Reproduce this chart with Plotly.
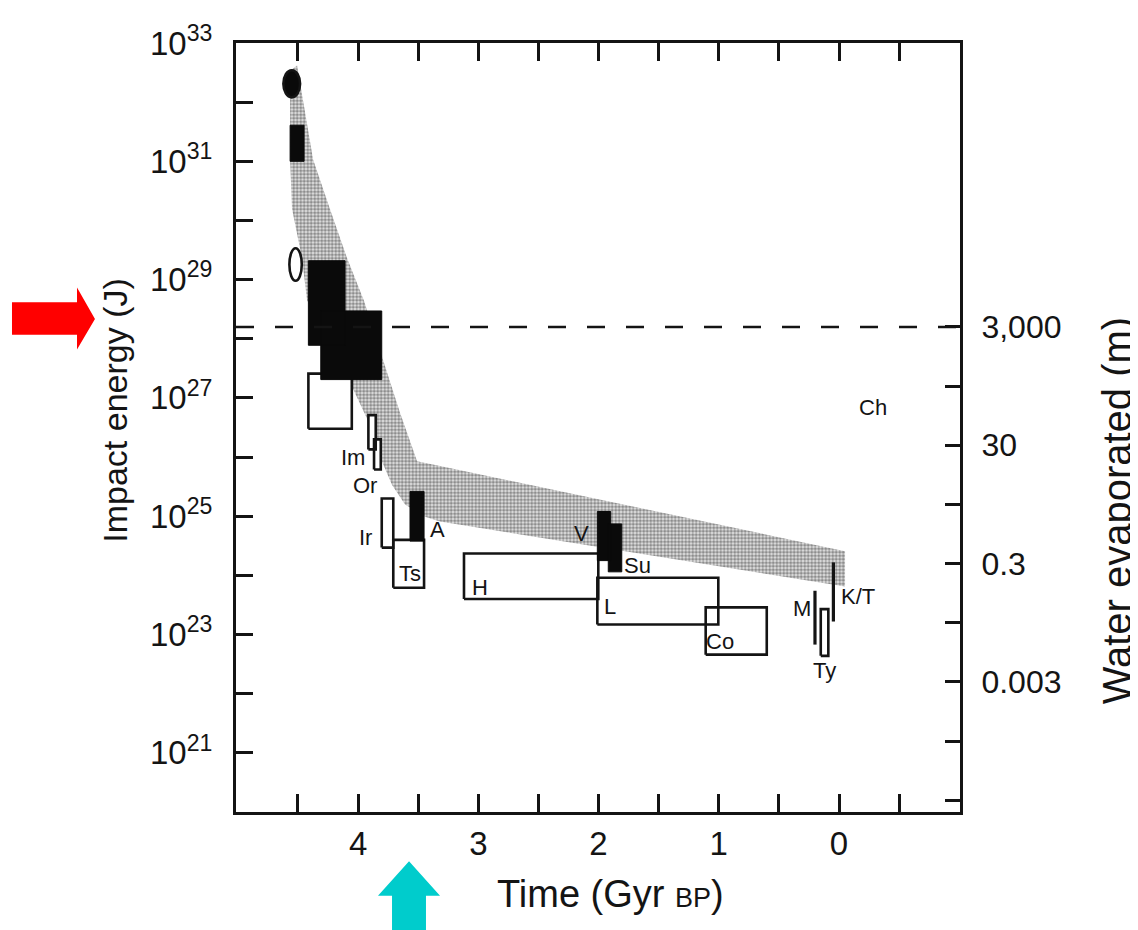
import plotly.graph_objects as go

# ---------------- data (time in Gyr BP, energy as log10 J) ----------------
open_names = ["early", "Im", "Or", "Ir", "Ts", "H", "L", "Co", "Ty"]
open_t0 = [4.413, 3.914, 3.867, 3.803, 3.707, 3.119, 2.010, 1.109, 0.152]
open_t1 = [4.052, 3.853, 3.811, 3.707, 3.451, 2.002, 1.004, 0.601, 0.089]
open_logE0 = [26.48, 26.13, 25.79, 24.47, 23.79, 23.60, 23.17, 22.66, 22.64]
open_logE1 = [27.41, 26.71, 26.30, 25.30, 24.60, 24.37, 23.96, 23.46, 23.43]

solid_names = ["b1", "b2", "b3", "A", "V", "Su"]
solid_t0 = [4.565, 4.413, 4.310, 3.568, 2.010, 1.919]
solid_t1 = [4.449, 4.108, 3.803, 3.451, 1.899, 1.807]
solid_logE0 = [31.00, 27.89, 27.31, 24.58, 24.25, 24.06]
solid_logE1 = [31.61, 29.32, 28.47, 25.42, 25.08, 24.87]

bar_names = ["M", "K/T"]
bar_t = [0.200, 0.047]
bar_logE0 = [22.83, 23.22]
bar_logE1 = [23.74, 24.22]

ellipse_filled = [True, False]
ellipse_t0 = [4.621, 4.571]
ellipse_t1 = [4.482, 4.468]
ellipse_logE0 = [32.08, 28.98]
ellipse_logE1 = [32.54, 29.53]

band_upper_t = [4.507, 4.374, 4.233, 4.091, 3.950, 3.651, 3.509, 3.318, -0.050]
band_upper_logE = [32.62, 31.03, 30.19, 29.36, 28.64, 26.75, 25.93, 25.85, 24.41]
band_lower_t = [-0.050, 3.318, 3.443, 3.609, 3.717, 3.834, 3.925, 4.050, 4.424, 4.466, 4.549, 4.565, 4.565]
band_lower_logE = [23.81, 24.91, 24.99, 25.20, 25.53, 26.08, 26.65, 27.19, 28.65, 29.36, 30.20, 31.03, 32.53]

label_text = ["Im", "Or", "Ir", "A", "Ts", "H", "V", "Su", "L", "Co", "M", "K/T", "Ty", "Ch"]
label_t = [4.042, 3.942, 3.936, 3.337, 3.570, 2.985, 2.140, 1.677, 1.904, 0.990, 0.310, -0.161, 0.125, -0.285]
label_logE = [26.00, 25.52, 24.64, 24.78, 24.03, 23.80, 24.71, 24.17, 23.47, 22.88, 23.44, 23.65, 22.39, 26.83]

threshold_water_m = 3000

time_major = [4, 3, 2, 1, 0]
time_minor = [4.5, 3.5, 2.5, 1.5, 0.5, -0.5]
time_labels = ["4", "3", "2", "1", "0"]

energy_label_exp = [21, 23, 25, 27, 29, 31, 33]
energy_minor_exp = [20, 22, 24, 26, 28, 30, 32]
water_ticks = [3000, 30, 0.3, 0.003]
water_labels = ["3,000", "30", "0.3", "0.003"]
water_minor = [300, 3, 0.03, 0.0003, 0.00003]

FONT = "Liberation Sans, Arial, Helvetica, sans-serif"
INK = "#141414"


def rect_path(t0s, t1s, e0s, e1s):
    xs, ys = [], []
    for a, b, c, d in zip(t0s, t1s, e0s, e1s):
        xs += [a, b, b, a, a, None]
        ys += [10.0 ** c, 10.0 ** c, 10.0 ** d, 10.0 ** d, 10.0 ** c, None]
    return xs, ys


fig = go.Figure()

# stippled band
band_x = band_upper_t + band_lower_t
band_y = [10.0 ** v for v in band_upper_logE + band_lower_logE]
fig.add_trace(go.Scatter(
    x=band_x, y=band_y, mode="lines", fill="toself",
    line=dict(width=0, color="rgba(0,0,0,0)"),
    fillcolor="rgba(0,0,0,0)",
    fillpattern=dict(shape=".", fgcolor="#383838", bgcolor="#e2e2e2", size=3.5, solidity=0.62),
    hoverinfo="skip"))

# dashed threshold line (on the water axis)
fig.add_trace(go.Scatter(
    x=[5.015, -1.006], y=[threshold_water_m, threshold_water_m], yaxis="y2",
    mode="lines", line=dict(color=INK, width=2.6, dash="18px,21px"), hoverinfo="skip"))

# white fills of open boxes
ox, oy = rect_path(open_t0, open_t1, open_logE0, open_logE1)
fig.add_trace(go.Scatter(x=ox, y=oy, mode="lines", fill="toself", fillcolor="white",
                         line=dict(width=0, color="white"), hoverinfo="skip"))
# outlines of open boxes
fig.add_trace(go.Scatter(x=ox, y=oy, mode="lines", line=dict(color=INK, width=2.6),
                         hoverinfo="skip"))
# solid boxes
sx, sy = rect_path(solid_t0, solid_t1, solid_logE0, solid_logE1)
fig.add_trace(go.Scatter(x=sx, y=sy, mode="lines", fill="toself", fillcolor="#0a0a0a",
                         line=dict(color="#0a0a0a", width=1), hoverinfo="skip"))
# vertical bars
bx, by = [], []
for t, a, b in zip(bar_t, bar_logE0, bar_logE1):
    bx += [t, t, None]
    by += [10.0 ** a, 10.0 ** b, None]
fig.add_trace(go.Scatter(x=bx, y=by, mode="lines", line=dict(color=INK, width=3.2),
                         hoverinfo="skip"))

shapes = []
for f, a, b, c, d in zip(ellipse_filled, ellipse_t0, ellipse_t1, ellipse_logE0, ellipse_logE1):
    shapes.append(dict(type="circle", xref="x", yref="y", x0=a, x1=b, y0=10.0 ** c, y1=10.0 ** d,
                       fillcolor="#0a0a0a" if f else "white",
                       line=dict(color=INK, width=2.6), layer="above"))

# highlight arrows (paper coordinates, outside the plot)
shapes.append(dict(type="path", xref="paper", yref="paper",
                   path="M -0.3094,0.6628 L -0.2196,0.6628 L -0.2196,0.6821 L -0.1948,0.6410 "
                        "L -0.2196,0.6013 L -0.2196,0.6205 L -0.3094,0.6205 Z",
                   fillcolor="#ff0000", line=dict(width=0)))
shapes.append(dict(type="path", xref="paper", yref="paper",
                   path="M 0.2390,-0.0641 L 0.2818,-0.1090 L 0.2624,-0.1090 L 0.2624,-0.1600 "
                        "L 0.2155,-0.1600 L 0.2155,-0.1090 L 0.1961,-0.1090 Z",
                   fillcolor="#00cccc", line=dict(width=0)))

# event labels as annotations (log axis -> position in log10 units)
annotations = []
for txt, t, e in zip(label_text, label_t, label_logE):
    annotations.append(dict(text=txt, x=t, y=e, xref="x", yref="y", showarrow=False,
                            xanchor="center", yanchor="middle",
                            font=dict(size=22, family=FONT, color=INK)))

annotations += [
    dict(text="Impact energy (J)", xref="paper", yref="paper", x=-0.1671, y=0.5218,
         textangle=-90, showarrow=False, xanchor="center", yanchor="middle",
         font=dict(size=34, family=FONT, color=INK)),
    dict(text="Water evaporated (m)", xref="paper", yref="paper", x=1.2169, y=0.3923,
         textangle=-90, showarrow=False, xanchor="center", yanchor="middle",
         font=dict(size=40, family=FONT, color=INK)),
    dict(text="Time (Gyr <span style='font-size:27px'>BP</span>)", xref="paper", yref="paper",
         x=0.5166, y=-0.1064, showarrow=False, xanchor="center", yanchor="middle",
         font=dict(size=38, family=FONT, color=INK)),
]

energy_text = [f"10<sup>{e}</sup>" for e in energy_label_exp]

fig.update_layout(
    width=1130, height=922,
    margin=dict(l=228, r=178, t=24, b=118),
    paper_bgcolor="white", plot_bgcolor="white",
    showlegend=False,
    font=dict(family=FONT, color=INK),
    shapes=shapes,
    annotations=annotations,
    xaxis=dict(
        range=[5.015, -1.006], tickmode="array", tickvals=time_major, ticktext=time_labels,
        ticks="inside", ticklen=18, tickwidth=2.5, tickcolor=INK,
        showline=True, linewidth=3, linecolor=INK, mirror="allticks",
        showgrid=False, zeroline=False, tickfont=dict(size=33, family=FONT, color=INK),
        ticklabelstandoff=0,
        minor=dict(tickmode="array", tickvals=time_minor, ticks="inside", ticklen=12,
                   tickwidth=2.5, tickcolor=INK, showgrid=False),
    ),
    yaxis=dict(
        type="log", range=[20, 33], tickmode="array",
        tickvals=[10.0 ** e for e in energy_label_exp], ticktext=energy_text,
        ticks="inside", ticklen=17, tickwidth=2.5, tickcolor=INK,
        showline=True, linewidth=3, linecolor=INK, mirror=False,
        showgrid=False, zeroline=False, tickfont=dict(size=33, family=FONT, color=INK),
        ticklabelstandoff=14,
        minor=dict(tickmode="array", tickvals=[10.0 ** e for e in energy_minor_exp],
                   ticks="inside", ticklen=17, tickwidth=2.5, tickcolor=INK, showgrid=False),
    ),
    yaxis2=dict(
        type="log", range=[-4.723, 8.277], overlaying="y", side="right",
        tickmode="array", tickvals=water_ticks, ticktext=water_labels,
        ticks="inside", ticklen=15, tickwidth=2.5, tickcolor=INK,
        showline=True, linewidth=3, linecolor=INK,
        showgrid=False, zeroline=False, tickfont=dict(size=32, family=FONT, color=INK),
        ticklabelstandoff=12,
        minor=dict(tickmode="array", tickvals=water_minor, ticks="inside", ticklen=15,
                   tickwidth=2.5, tickcolor=INK, showgrid=False),
    ),
)

fig.write_html("out.html")
